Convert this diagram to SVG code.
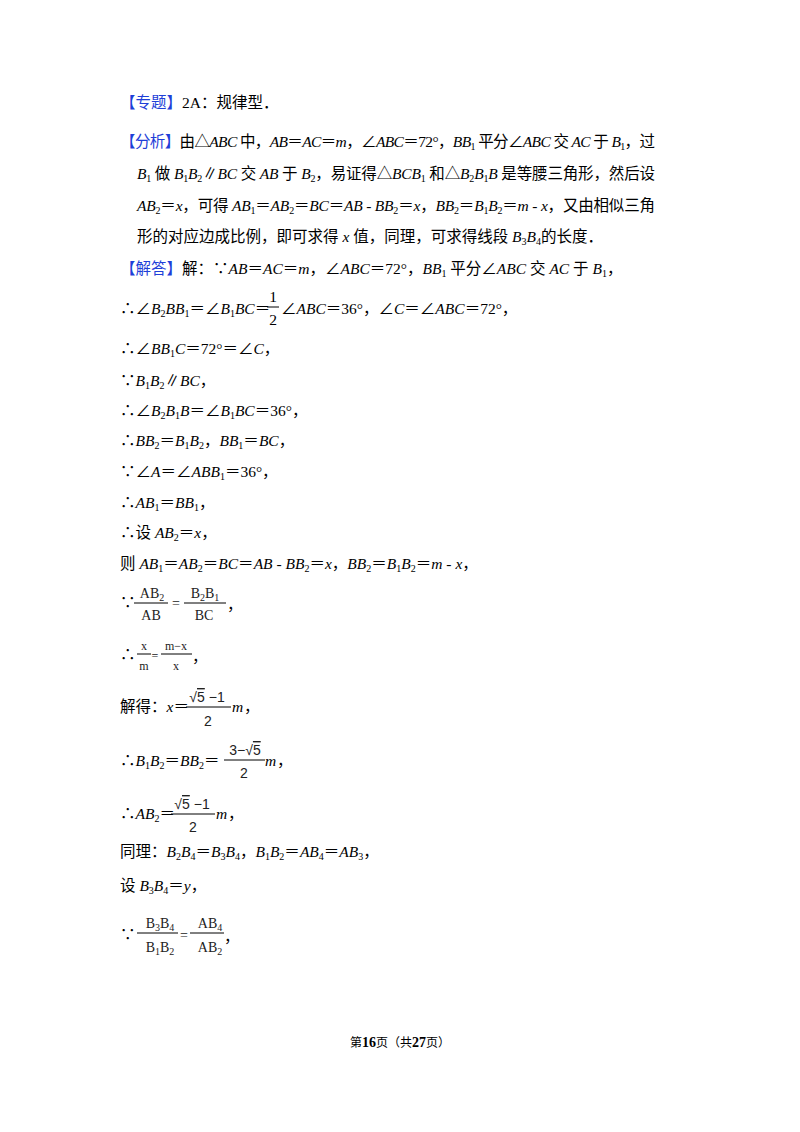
<svg xmlns="http://www.w3.org/2000/svg" width="800" height="1132" viewBox="0 0 800 1132">
<style>
.t{font-family:"Liberation Serif","Noto Sans CJK SC",serif;font-size:15.5px;fill:#000}
.b{fill:#1f3fd8}
.i{font-style:italic}
.s{font-size:10px;baseline-shift:-3px}
.f{font-family:"Liberation Serif","DejaVu Serif",serif;font-size:14px;fill:#222;text-anchor:middle}
.fs{font-size:10px;baseline-shift:-3px}
.ln{stroke:#000;stroke-width:1}
.ft{font-family:"Liberation Serif","Noto Sans CJK SC",serif;font-size:12px;fill:#000}
</style>
<rect width="800" height="1132" fill="#fff"/>
<g id="text">
<text class="t" x="120" y="108"><tspan class="b">【专题】</tspan>2A：规律型．</text>
<text class="t" x="120" y="147" textLength="535" lengthAdjust="spacing"><tspan class="b">【分析】</tspan>由△<tspan class="i">ABC</tspan> 中，<tspan class="i">AB</tspan>＝<tspan class="i">AC</tspan>＝<tspan class="i">m</tspan>，∠<tspan class="i">ABC</tspan>＝72°，<tspan class="i">BB</tspan><tspan class="s">1</tspan> 平分∠<tspan class="i">ABC</tspan> 交 <tspan class="i">AC</tspan> 于 <tspan class="i">B</tspan><tspan class="s">1</tspan>，过</text>
<text class="t" x="137" y="179" textLength="518" lengthAdjust="spacing"><tspan class="i">B</tspan><tspan class="s">1</tspan> 做 <tspan class="i">B</tspan><tspan class="s">1</tspan><tspan class="i">B</tspan><tspan class="s">2</tspan>∥<tspan class="i">BC</tspan> 交 <tspan class="i">AB</tspan> 于 <tspan class="i">B</tspan><tspan class="s">2</tspan>，易证得△<tspan class="i">BCB</tspan><tspan class="s">1</tspan> 和△<tspan class="i">B</tspan><tspan class="s">2</tspan><tspan class="i">B</tspan><tspan class="s">1</tspan><tspan class="i">B</tspan> 是等腰三角形，然后设</text>
<text class="t" x="137" y="211" textLength="518" lengthAdjust="spacing"><tspan class="i">AB</tspan><tspan class="s">2</tspan>＝<tspan class="i">x</tspan>，可得 <tspan class="i">AB</tspan><tspan class="s">1</tspan>＝<tspan class="i">AB</tspan><tspan class="s">2</tspan>＝<tspan class="i">BC</tspan>＝<tspan class="i">AB</tspan> - <tspan class="i">BB</tspan><tspan class="s">2</tspan>＝<tspan class="i">x</tspan>，<tspan class="i">BB</tspan><tspan class="s">2</tspan>＝<tspan class="i">B</tspan><tspan class="s">1</tspan><tspan class="i">B</tspan><tspan class="s">2</tspan>＝<tspan class="i">m</tspan> - <tspan class="i">x</tspan>，又由相似三角</text>
<text class="t" x="137" y="242">形的对应边成比例，即可求得 <tspan class="i">x</tspan> 值，同理，可求得线段 <tspan class="i">B</tspan><tspan class="s">3</tspan><tspan class="i">B</tspan><tspan class="s">4</tspan>的长度．</text>
<text class="t" x="120" y="274"><tspan class="b">【解答】</tspan>解：∵<tspan class="i">AB</tspan>＝<tspan class="i">AC</tspan>＝<tspan class="i">m</tspan>，∠<tspan class="i">ABC</tspan>＝72°，<tspan class="i">BB</tspan><tspan class="s">1</tspan> 平分∠<tspan class="i">ABC</tspan> 交 <tspan class="i">AC</tspan> 于 <tspan class="i">B</tspan><tspan class="s">1</tspan>，</text>
<text class="t" x="120" y="314">∴∠<tspan class="i">B</tspan><tspan class="s">2</tspan><tspan class="i">BB</tspan><tspan class="s">1</tspan>＝∠<tspan class="i">B</tspan><tspan class="s">1</tspan><tspan class="i">BC</tspan>＝</text>
<text class="t" x="273" y="302" text-anchor="middle">1</text>
<line class="ln" x1="267" y1="307" x2="279" y2="307"/>
<text class="t" x="273" y="325" text-anchor="middle">2</text>
<text class="t" x="281" y="314">∠<tspan class="i">ABC</tspan>＝36°，∠<tspan class="i">C</tspan>＝∠<tspan class="i">ABC</tspan>＝72°，</text>
<text class="t" x="120" y="354">∴∠<tspan class="i">BB</tspan><tspan class="s">1</tspan><tspan class="i">C</tspan>＝72°＝∠<tspan class="i">C</tspan>，</text>
<text class="t" x="120" y="386">∵<tspan class="i">B</tspan><tspan class="s">1</tspan><tspan class="i">B</tspan><tspan class="s">2</tspan>∥<tspan class="i">BC</tspan>，</text>
<text class="t" x="120" y="416">∴∠<tspan class="i">B</tspan><tspan class="s">2</tspan><tspan class="i">B</tspan><tspan class="s">1</tspan><tspan class="i">B</tspan>＝∠<tspan class="i">B</tspan><tspan class="s">1</tspan><tspan class="i">BC</tspan>＝36°，</text>
<text class="t" x="120" y="446">∴<tspan class="i">BB</tspan><tspan class="s">2</tspan>＝<tspan class="i">B</tspan><tspan class="s">1</tspan><tspan class="i">B</tspan><tspan class="s">2</tspan>，<tspan class="i">BB</tspan><tspan class="s">1</tspan>＝<tspan class="i">BC</tspan>，</text>
<text class="t" x="120" y="477">∵∠<tspan class="i">A</tspan>＝∠<tspan class="i">ABB</tspan><tspan class="s">1</tspan>＝36°，</text>
<text class="t" x="120" y="508">∴<tspan class="i">AB</tspan><tspan class="s">1</tspan>＝<tspan class="i">BB</tspan><tspan class="s">1</tspan>，</text>
<text class="t" x="120" y="538">∴设 <tspan class="i">AB</tspan><tspan class="s">2</tspan>＝<tspan class="i">x</tspan>，</text>
<text class="t" x="120" y="569">则 <tspan class="i">AB</tspan><tspan class="s">1</tspan>＝<tspan class="i">AB</tspan><tspan class="s">2</tspan>＝<tspan class="i">BC</tspan>＝<tspan class="i">AB</tspan> - <tspan class="i">BB</tspan><tspan class="s">2</tspan>＝<tspan class="i">x</tspan>，<tspan class="i">BB</tspan><tspan class="s">2</tspan>＝<tspan class="i">B</tspan><tspan class="s">1</tspan><tspan class="i">B</tspan><tspan class="s">2</tspan>＝<tspan class="i">m</tspan> - <tspan class="i">x</tspan>，</text>
<!-- fraction 1 -->
<text class="t" x="120" y="608">∵</text>
<text class="f" x="152" y="598">AB<tspan class="fs">2</tspan></text>
<line class="ln" x1="134" y1="603" x2="168" y2="603"/>
<text class="f" x="151" y="620">AB</text>
<text class="f" x="176" y="608">=</text>
<text class="f" x="205" y="598">B<tspan class="fs">2</tspan>B<tspan class="fs">1</tspan></text>
<line class="ln" x1="184" y1="603" x2="226" y2="603"/>
<text class="f" x="204" y="620">BC</text>
<text class="t" x="227" y="610">，</text>
<!-- fraction 2 -->
<text class="t" x="120" y="660">∴</text>
<text class="f" x="144" y="650" style="font-size:12px">x</text>
<line class="ln" x1="137" y1="654" x2="151" y2="654"/>
<text class="f" x="144" y="670" style="font-size:12px">m</text>
<text class="f" x="155" y="660" style="font-size:12px">=</text>
<text class="f" x="176" y="650" style="font-size:12px">m−x</text>
<line class="ln" x1="161" y1="654" x2="192" y2="654"/>
<text class="f" x="176" y="670" style="font-size:12px">x</text>
<text class="t" x="192" y="662">，</text>
<!-- x = -->
<text class="t" x="120" y="712">解得：<tspan class="i">x</tspan>＝</text>
<text class="f" x="207" y="702" style="font-family:'Liberation Sans',sans-serif">√<tspan text-decoration="overline">5</tspan> −1</text>
<line class="ln" x1="186" y1="707" x2="231" y2="707"/>
<text class="f" x="208" y="726" style="font-family:'Liberation Sans',sans-serif">2</text>
<text class="t i" x="232" y="712">m</text>
<text class="t" x="244" y="712">，</text>
<!-- B1B2 -->
<text class="t" x="120" y="766">∴<tspan class="i">B</tspan><tspan class="s">1</tspan><tspan class="i">B</tspan><tspan class="s">2</tspan>＝<tspan class="i">BB</tspan><tspan class="s">2</tspan>＝</text>
<text class="f" x="245" y="755" style="font-family:'Liberation Sans',sans-serif">3−√<tspan text-decoration="overline">5</tspan></text>
<line class="ln" x1="224" y1="760" x2="265" y2="760"/>
<text class="f" x="244" y="778" style="font-family:'Liberation Sans',sans-serif">2</text>
<text class="t i" x="265" y="766">m</text>
<text class="t" x="277" y="766">，</text>
<!-- AB2 -->
<text class="t" x="120" y="819">∴<tspan class="i">AB</tspan><tspan class="s">2</tspan>＝</text>
<text class="f" x="192" y="809" style="font-family:'Liberation Sans',sans-serif">√<tspan text-decoration="overline">5</tspan> −1</text>
<line class="ln" x1="171" y1="814" x2="215" y2="814"/>
<text class="f" x="193" y="832" style="font-family:'Liberation Sans',sans-serif">2</text>
<text class="t i" x="216" y="819">m</text>
<text class="t" x="228" y="819">，</text>
<text class="t" x="120" y="857">同理：<tspan class="i">B</tspan><tspan class="s">2</tspan><tspan class="i">B</tspan><tspan class="s">4</tspan>＝<tspan class="i">B</tspan><tspan class="s">3</tspan><tspan class="i">B</tspan><tspan class="s">4</tspan>，<tspan class="i">B</tspan><tspan class="s">1</tspan><tspan class="i">B</tspan><tspan class="s">2</tspan>＝<tspan class="i">AB</tspan><tspan class="s">4</tspan>＝<tspan class="i">AB</tspan><tspan class="s">3</tspan>，</text>
<text class="t" x="120" y="891">设 <tspan class="i">B</tspan><tspan class="s">3</tspan><tspan class="i">B</tspan><tspan class="s">4</tspan>＝<tspan class="i">y</tspan>，</text>
<!-- fraction last -->
<text class="t" x="120" y="940">∵</text>
<text class="f" x="160" y="928">B<tspan class="fs">3</tspan>B<tspan class="fs">4</tspan></text>
<line class="ln" x1="137" y1="933" x2="178" y2="933"/>
<text class="f" x="160" y="952">B<tspan class="fs">1</tspan>B<tspan class="fs">2</tspan></text>
<text class="f" x="184" y="940">=</text>
<text class="f" x="210" y="928">AB<tspan class="fs">4</tspan></text>
<line class="ln" x1="190" y1="933" x2="224" y2="933"/>
<text class="f" x="210" y="952">AB<tspan class="fs">2</tspan></text>
<text class="t" x="224" y="942">，</text>
<text class="ft" x="400" y="1047" text-anchor="middle">第<tspan font-weight="bold" font-size="14">16</tspan>页（共<tspan font-weight="bold" font-size="14">27</tspan>页）</text>
</g>
</svg>
